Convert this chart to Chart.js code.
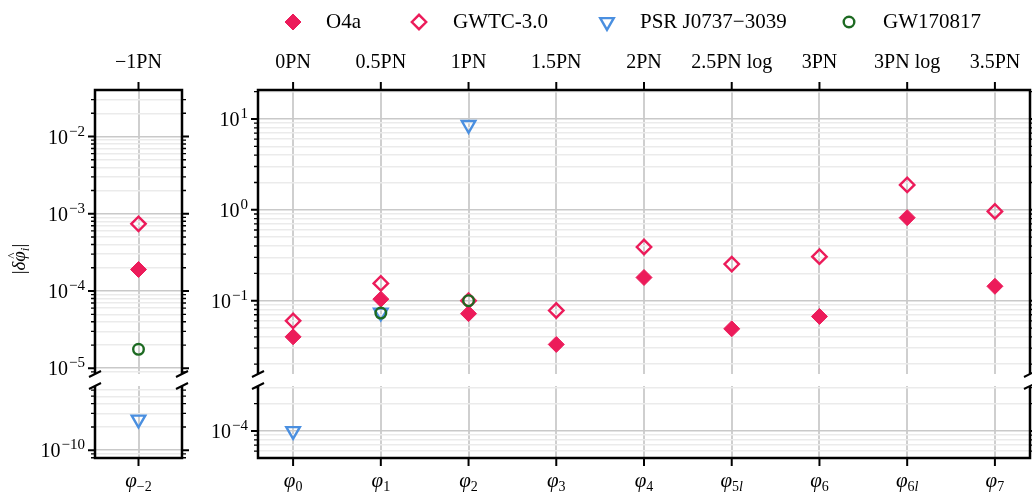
<!DOCTYPE html>
<html>
<head>
<meta charset="utf-8">
<script src="https://cdn.jsdelivr.net/npm/chart.js@4.4.0/dist/chart.umd.min.js"></script>
<style>
body { margin: 0; background: #fff; }
#wrap { position: relative; width: 1032px; height: 494px; }
#wrap canvas { position: absolute; left: 0; top: 0; }
</style>
</head>
<body>
<div id="wrap">
    <canvas id="lt" width="1032" height="494"></canvas>
    <canvas id="lb" width="1032" height="494"></canvas>
    <canvas id="mt" width="1032" height="494"></canvas>
    <canvas id="mb" width="1032" height="494"></canvas>
</div>
<script>
// coefficients phi_i (subscripts) and their PN order
var coeffs = ['\u22122', '0', '1', '2', '3', '4', '5l', '6', '6l', '7'];
var pnOrders = ['\u22121PN', '0PN', '0.5PN', '1PN', '1.5PN', '2PN', '2.5PN log', '3PN', '3PN log', '3.5PN'];

// bounds on |delta phi_i|, one entry per coefficient
var o4a      = [1.9e-4, 0.040, 0.104, 0.072, 0.033, 0.18, 0.049, 0.067, 0.82, 0.144];
var gwtc3    = [7.4e-4, 0.060, 0.155, 0.100, 0.078, 0.39, 0.253, 0.305, 1.88, 0.96];
var psr      = [2.5e-10, 1.0e-4, 0.074, 8.6, null, null, null, null, null, null];
var gw170817 = [1.76e-5, null, 0.073, 0.100, null, null, null, null, null, null];

var serif = '"Liberation Serif", "DejaVu Serif", serif';
var red = '#ec1b5a', blue = '#4a8fe0', green = '#1d6a22';

var series = [
    { label: 'O4a', data: o4a, style: 'rectRot', r: 8, bg: red, border: red, bw: 1, rot: 0 },
    { label: 'GWTC-3.0', data: gwtc3, style: 'rectRot', r: 7.2, bg: 'rgba(0,0,0,0)', border: red, bw: 2.4, rot: 0 },
    { label: 'PSR J0737\u22123039', data: psr, style: 'triangle', r: 7.8, bg: 'rgba(0,0,0,0)', border: blue, bw: 2.4, rot: 180 },
    { label: 'GW170817', data: gw170817, style: 'circle', r: 5.3, bg: 'rgba(0,0,0,0)', border: green, bw: 2.4, rot: 0 }
];

var panels = [
    { id: 'lt', idx: [0], box: [95, 90, 182, 374], xr: [-0.5, 0.5], yr: [-5.074, -1.398], top: true, bottom: false },
    { id: 'lb', idx: [0], box: [95, 386, 182, 458], xr: [-0.5, 0.5], yr: [-10.10, -9.169], top: false, bottom: true },
    { id: 'mt', idx: [1, 2, 3, 4, 5, 6, 7, 8, 9], box: [258, 90, 1030, 374], xr: [-0.4, 8.4], yr: [-1.807, 1.319], top: true, bottom: false, extras: true },
    { id: 'mb', idx: [1, 2, 3, 4, 5, 6, 7, 8, 9], box: [258, 386, 1030, 458], xr: [-0.4, 8.4], yr: [-4.297, -3.505], top: false, bottom: true }
];

function logTicks(scale) {
    var out = [];
    var lo = Math.floor(Math.log10(scale.min)), hi = Math.ceil(Math.log10(scale.max));
    for (var k = lo; k <= hi; k++) {
        for (var m = 1; m < 10; m++) {
            var v = m * Math.pow(10, k);
            if (v >= scale.min && v <= scale.max) out.push({ value: v, major: m === 1 });
        }
    }
    scale.ticks = out;
}

function drawPow(ctx, xRight, y, e) {
    var base = '10', ex = (e < 0 ? '\u2212' : '') + Math.abs(e);
    ctx.font = '20px ' + serif;
    var wb = ctx.measureText(base).width;
    ctx.font = '15px ' + serif;
    var we = ctx.measureText(ex).width;
    var x0 = xRight - wb - we - 1;
    ctx.textAlign = 'left';
    ctx.textBaseline = 'alphabetic';
    ctx.font = '20px ' + serif;
    ctx.fillText(base, x0, y + 7);
    ctx.font = '15px ' + serif;
    ctx.fillText(ex, x0 + wb + 1, y - 1);
}

function drawPhi(ctx, cx, sub) {
    ctx.textBaseline = 'alphabetic';
    ctx.textAlign = 'left';
    ctx.font = 'italic 21px ' + serif;
    var wp = ctx.measureText('\u03c6').width;
    var num = sub.replace('l', ''), ell = sub.indexOf('l') >= 0 ? 'l' : '';
    ctx.font = '14px ' + serif;
    var wn = ctx.measureText(num).width;
    ctx.font = 'italic 14px ' + serif;
    var wl = ctx.measureText(ell).width;
    var x0 = cx - (wp + wn + wl) / 2;
    ctx.font = 'italic 21px ' + serif;
    ctx.fillText('\u03c6', x0, 487);
    ctx.font = '14px ' + serif;
    ctx.fillText(num, x0 + wp, 491);
    ctx.font = 'italic 14px ' + serif;
    ctx.fillText(ell, x0 + wp + wn, 491);
}

function drawMarker(ctx, s, x, y) {
    ctx.save();
    ctx.fillStyle = s.bg;
    ctx.strokeStyle = s.border;
    ctx.lineWidth = s.bw;
    Chart.helpers.drawPoint(ctx, { pointStyle: s.style, rotation: s.rot, radius: s.r, borderWidth: s.bw }, x, y);
    ctx.restore();
}

function drawExtras(ctx) {
    // legend
    var legendX = [[293, 326], [419, 453], [607, 640], [849, 883]];
    series.forEach(function (s, i) {
        drawMarker(ctx, s, legendX[i][0], 22);
        ctx.fillStyle = '#000';
        ctx.font = '21px ' + serif;
        ctx.textAlign = 'left';
        ctx.textBaseline = 'alphabetic';
        ctx.fillText(s.label, legendX[i][1], 28);
    });
    // y axis title |delta phi_i|
    ctx.save();
    ctx.translate(25, 259);
    ctx.rotate(-Math.PI / 2);
    ctx.fillStyle = '#000';
    ctx.textBaseline = 'alphabetic';
    var parts = [
        ['|', '19px ' + serif, 0],
        ['\u03b4', 'italic 19px ' + serif, 0],
        ['\u03c6', 'italic 19px ' + serif, 0],
        ['i', 'italic 13px ' + serif, 4],
        ['|', '19px ' + serif, 0]
    ];
    var total = 0;
    parts.forEach(function (p) { ctx.font = p[1]; p.push(ctx.measureText(p[0]).width); total += p[3]; });
    var x = -total / 2;
    parts.forEach(function (p, k) {
        ctx.font = p[1];
        ctx.fillText(p[0], x, p[2]);
        if (k === 2) {
            ctx.font = '13px ' + serif;
            ctx.fillText('^', x + 3, -9);
        }
        x += p[3];
    });
    ctx.restore();
}

function framePlugin(p) {
    return {
        id: 'frame' + p.id,
        afterDraw: function (chart) {
            var ctx = chart.ctx, a = chart.chartArea;
            var xs = chart.scales.x, ys = chart.scales.y;
            ctx.save();
            ctx.strokeStyle = '#000';
            ctx.fillStyle = '#000';
            ctx.lineWidth = 2.5;
            ctx.beginPath();
            ctx.moveTo(a.left, a.top - (p.top ? 1.25 : 0)); ctx.lineTo(a.left, a.bottom + (p.bottom ? 1.25 : 0));
            ctx.moveTo(a.right, a.top - (p.top ? 1.25 : 0)); ctx.lineTo(a.right, a.bottom + (p.bottom ? 1.25 : 0));
            if (p.top) { ctx.moveTo(a.left, a.top); ctx.lineTo(a.right, a.top); }
            if (p.bottom) { ctx.moveTo(a.left, a.bottom); ctx.lineTo(a.right, a.bottom); }
            ctx.stroke();

            // y ticks on both sides, labels on the left
            ys.ticks.forEach(function (t) {
                var py = ys.getPixelForValue(t.value);
                var len = t.major ? 7 : 4;
                ctx.lineWidth = t.major ? 2 : 1.3;
                ctx.beginPath();
                ctx.moveTo(a.left, py); ctx.lineTo(a.left - len, py);
                ctx.moveTo(a.right, py); ctx.lineTo(a.right + len, py);
                ctx.stroke();
                if (t.major) drawPow(ctx, a.left - 10, py, Math.round(Math.log10(t.value)));
            });

            // x ticks and labels
            xs.ticks.forEach(function (t, j) {
                var px = xs.getPixelForValue(t.value);
                var k = p.idx[j];
                ctx.lineWidth = 2;
                ctx.beginPath();
                if (p.top) { ctx.moveTo(px, a.top); ctx.lineTo(px, a.top - 8); }
                if (p.bottom) { ctx.moveTo(px, a.bottom); ctx.lineTo(px, a.bottom + 8); }
                ctx.stroke();
                if (p.top) {
                    ctx.font = '20px ' + serif;
                    ctx.textAlign = 'center';
                    ctx.textBaseline = 'alphabetic';
                    ctx.fillText(pnOrders[k], px, 68);
                }
                if (p.bottom) drawPhi(ctx, px, coeffs[k]);
            });

            // broken axis marks
            var by = p.top ? a.bottom : a.top;
            ctx.lineWidth = 2;
            [a.left, a.right].forEach(function (bx) {
                ctx.beginPath();
                ctx.moveTo(bx - 6, by + 3);
                ctx.lineTo(bx + 6, by - 3);
                ctx.stroke();
            });

            if (p.extras) drawExtras(ctx);
            ctx.restore();
        }
    };
}

panels.forEach(function (p) {
    var ymin = Math.pow(10, p.yr[0]), ymax = Math.pow(10, p.yr[1]);
    var datasets = series.map(function (s, i) {
        var pts = [];
        p.idx.forEach(function (k, j) {
            var v = s.data[k];
            if (v !== null && v >= ymin && v <= ymax) pts.push({ x: j, y: v });
        });
        return {
            label: s.label,
            data: pts,
            pointStyle: s.style,
            pointRadius: s.r,
            pointRotation: s.rot,
            pointBackgroundColor: s.bg,
            pointBorderColor: s.border,
            pointBorderWidth: s.bw,
            showLine: false,
            order: 3 - i
        };
    });

    new Chart(document.getElementById(p.id), {
        type: 'scatter',
        data: { datasets: datasets },
        options: {
            responsive: false,
            animation: false,
            devicePixelRatio: 1,
            events: [],
            layout: {
                autoPadding: false,
                padding: { left: p.box[0], top: p.box[1], right: 1032 - p.box[2], bottom: 494 - p.box[3] }
            },
            plugins: { legend: { display: false }, tooltip: { enabled: false } },
            scales: {
                x: {
                    type: 'linear', min: p.xr[0], max: p.xr[1],
                    afterBuildTicks: function (scale) {
                        scale.ticks = p.idx.map(function (k, j) { return { value: j }; });
                    },
                    ticks: { display: false },
                    border: { display: false },
                    grid: { drawTicks: false, color: '#cfcfcf', lineWidth: 2 }
                },
                y: {
                    type: 'logarithmic', min: ymin, max: ymax,
                    afterBuildTicks: logTicks,
                    ticks: { display: false },
                    border: { display: false },
                    grid: {
                        drawTicks: false,
                        color: function (c) { return c.tick && c.tick.major ? '#c9c9c9' : '#ebebeb'; },
                        lineWidth: function (c) { return c.tick && c.tick.major ? 1.6 : 1.4; }
                    }
                }
            }
        },
        plugins: [framePlugin(p)]
    });
});
</script>
</body>
</html>
